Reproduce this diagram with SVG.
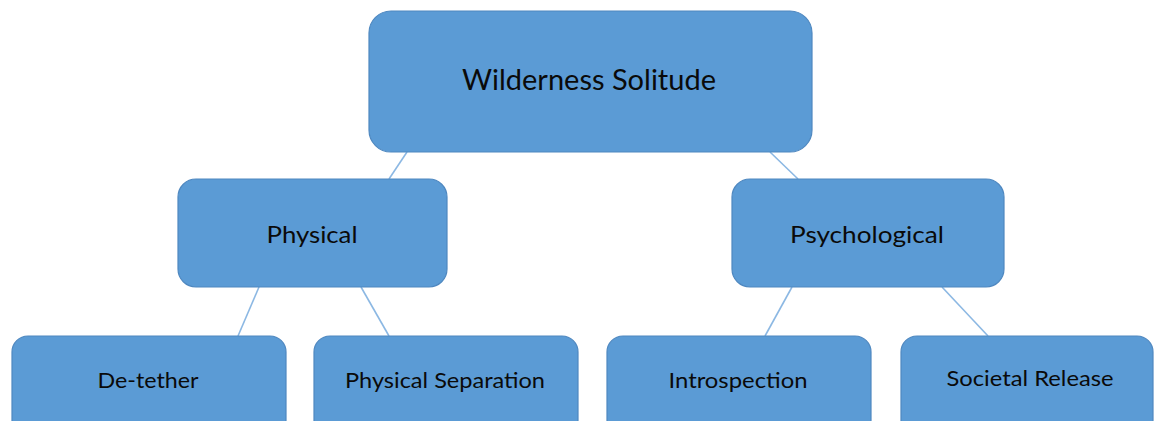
<svg xmlns="http://www.w3.org/2000/svg" width="1156" height="421" viewBox="0 0 1156 421">
<style>
.box{fill:#5b9bd5;stroke:#4f88c0;stroke-width:1.2}
.lbl{font-family:Lato,"Liberation Sans",sans-serif;fill:#0a0a0a;text-anchor:middle}
.l1{font-size:28px}
.l2{font-size:24px}
.l3{font-size:21px}
.con line{stroke:#8cb8e3;stroke-width:1.6}
</style>
<rect width="1156" height="421" fill="#ffffff"/>
<g id="connectors" class="con">
<line x1="407" y1="152" x2="389" y2="179"/>
<line x1="770" y1="152" x2="798" y2="179"/>
<line x1="259" y1="287" x2="238" y2="336"/>
<line x1="361" y1="287" x2="389" y2="336"/>
<line x1="792" y1="287" x2="765" y2="336"/>
<line x1="942" y1="287" x2="988" y2="336"/>
</g>
<g id="wilderness-solitude">
<rect class="box" x="369" y="11" width="443" height="141" rx="22"/>
<text class="lbl l1" x="589" y="90" textLength="254" lengthAdjust="spacingAndGlyphs">Wilderness Solitude</text>
</g>
<g id="physical">
<rect class="box" x="178" y="179" width="269" height="108" rx="18"/>
<text class="lbl l2" x="312" y="243" textLength="91" lengthAdjust="spacingAndGlyphs">Physical</text>
</g>
<g id="psychological">
<rect class="box" x="732" y="179" width="272" height="108" rx="18"/>
<text class="lbl l2" x="867" y="243" textLength="154" lengthAdjust="spacingAndGlyphs">Psychological</text>
</g>
<g id="de-tether">
<rect class="box" x="12" y="336" width="274" height="100" rx="16"/>
<text class="lbl l3" x="148" y="388" textLength="101" lengthAdjust="spacingAndGlyphs">De-tether</text>
</g>
<g id="physical-separation">
<rect class="box" x="314" y="336" width="264" height="100" rx="16"/>
<text class="lbl l3" x="445" y="388" textLength="200" lengthAdjust="spacingAndGlyphs">Physical Separation</text>
</g>
<g id="introspection">
<rect class="box" x="607" y="336" width="264" height="100" rx="16"/>
<text class="lbl l3" x="738" y="388" textLength="139" lengthAdjust="spacingAndGlyphs">Introspection</text>
</g>
<g id="societal-release">
<rect class="box" x="901" y="336" width="252" height="100" rx="16"/>
<text class="lbl l3" x="1030" y="386" textLength="167" lengthAdjust="spacingAndGlyphs">Societal Release</text>
</g>
</svg>
